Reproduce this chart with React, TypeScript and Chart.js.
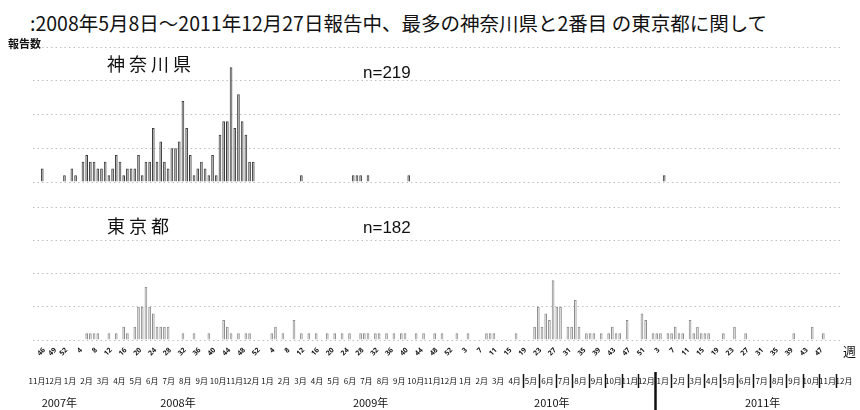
import React, { useEffect, useRef } from 'react';
import { Chart, registerables } from 'chart.js';

Chart.register(...registerables);

// ---- data: weekly report counts (2007 starts at week 44) ----
const YEARS = [2007, 2008, 2009, 2010, 2011];
const FIRST_WEEK = [44, 1, 1, 1, 1];

const KANAGAWA_2007 = [0, 0, 2, 0, 0, 0, 0, 0, 1];
const KANAGAWA_2008 = [
  0, 2, 1, 0, 3, 4, 3, 3, 2, 2, 3, 1, 2,
  4, 3, 1, 2, 2, 2, 4, 1, 3, 3, 8, 3, 6,
  3, 2, 5, 5, 6, 12, 8, 4, 1, 2, 3, 2, 1,
  4, 1, 7, 9, 9, 17, 8, 13, 9, 7, 3, 3, 0,
];
const KANAGAWA_2009 = [
  0, 0, 0, 0, 0, 0, 0, 0, 0, 0, 0, 1, 0,
  0, 0, 0, 0, 0, 0, 0, 0, 0, 0, 0, 0, 1,
  1, 1, 0, 1, 0, 0, 0, 0, 0, 0, 0, 0, 0,
  0, 1, 0, 0, 0, 0, 0, 0, 0, 0, 0, 0, 0, 0,
];
const KANAGAWA_2010 = [
  0, 0, 0, 0, 0, 0, 0, 0, 0, 0, 0, 0, 0,
  0, 0, 0, 0, 0, 0, 0, 0, 0, 0, 0, 0, 0,
  0, 0, 0, 0, 0, 0, 0, 0, 0, 0, 0, 0, 0,
  0, 0, 0, 0, 0, 0, 0, 0, 0, 0, 0, 0, 0,
];
const KANAGAWA_2011 = [
  0, 0, 0, 0, 1, 0, 0, 0, 0, 0, 0, 0, 0,
  0, 0, 0, 0, 0, 0, 0, 0, 0, 0, 0, 0, 0,
  0, 0, 0, 0, 0, 0, 0, 0, 0, 0, 0, 0, 0,
  0, 0, 0, 0, 0, 0, 0, 0, 0, 0, 0, 0, 0,
];

const TOKYO_2007 = [0, 0, 0, 0, 0, 0, 0, 0, 0];
const TOKYO_2008 = [
  0, 0, 0, 0, 0, 1, 1, 1, 1, 0, 0, 1, 0,
  1, 0, 2, 1, 0, 2, 5, 5, 8, 5, 4, 2, 2,
  2, 2, 0, 0, 0, 1, 0, 0, 1, 0, 0, 0, 1,
  0, 0, 0, 3, 2, 1, 0, 1, 0, 1, 1, 0, 0,
];
const TOKYO_2009 = [
  0, 0, 0, 1, 2, 0, 1, 0, 0, 3, 0, 1, 0,
  1, 0, 1, 0, 0, 1, 0, 1, 0, 1, 0, 1, 0,
  0, 1, 1, 1, 0, 1, 1, 0, 1, 0, 1, 0, 1,
  1, 0, 0, 1, 0, 1, 0, 0, 1, 0, 1, 0, 0, 0,
];
const TOKYO_2010 = [
  1, 0, 0, 1, 0, 0, 0, 0, 1, 1, 1, 0, 0,
  0, 0, 0, 1, 0, 0, 0, 0, 2, 5, 2, 4, 3,
  9, 5, 5, 0, 2, 2, 6, 2, 0, 1, 1, 1, 0,
  1, 0, 1, 2, 1, 1, 0, 3, 0, 0, 0, 4, 3,
];
const TOKYO_2011 = [
  0, 1, 1, 1, 0, 1, 1, 2, 1, 1, 0, 3, 1,
  2, 1, 1, 1, 0, 0, 0, 1, 0, 0, 2, 0, 0,
  1, 0, 0, 0, 0, 0, 0, 0, 0, 0, 0, 0, 0,
  1, 0, 0, 0, 0, 2, 0, 0, 1, 0, 0, 0, 0,
];

// week numbers shown as tick labels
const TICKS_2007 = [46, 49, 52];
const TICKS_2008 = [4, 8, 12, 16, 20, 24, 28, 32, 36, 40, 44, 48, 52];
const TICKS_2009 = [4, 8, 12, 16, 20, 24, 28, 32, 36, 40, 44, 48, 52];
const TICKS_2010 = [3, 7, 11, 15, 19, 23, 27, 31, 35, 39, 43, 47, 51];
const TICKS_2011 = [3, 7, 11, 15, 19, 23, 27, 31, 35, 39, 43, 47];

// month row: 2007-11 .. 2011-12
const MONTH_START = { year: 2007, month: 11 };
const MONTH_COUNT = 50;
const YEAR_LABELS = ['2007年', '2008年', '2009年', '2010年', '2011年'];
const YEAR_LABEL_AT = [1.6, 8.8, 20.5, 31.5, 44.3]; // month-row position
const SEPARATOR_FROM = '2010-4';
const SEPARATOR_TO = '2011-11';
const YEAR_BREAK = '2010-12';

const TITLE = ':2008年5月8日〜2011年12月27日報告中、最多の神奈川県と2番目 の東京都に関して';
const N_KANAGAWA = 'n=219';
const N_TOKYO = 'n=182';

// ---- build tables ----
const KANA = [KANAGAWA_2007, KANAGAWA_2008, KANAGAWA_2009, KANAGAWA_2010, KANAGAWA_2011];
const TOK = [TOKYO_2007, TOKYO_2008, TOKYO_2009, TOKYO_2010, TOKYO_2011];
const TICKS = [TICKS_2007, TICKS_2008, TICKS_2009, TICKS_2010, TICKS_2011];

const labels: string[] = [];
const tickText: string[] = [];
const kanagawa: number[] = [];
const tokyo: number[] = [];
YEARS.forEach((y, yi) => {
  KANA[yi].forEach((v, i) => {
    const w = FIRST_WEEK[yi] + i;
    labels.push(`${y}-W${w}`);
    tickText.push(TICKS[yi].includes(w) ? String(w) : '');
    kanagawa.push(v);
    tokyo.push(TOK[yi][i]);
  });
});

const months: { key: string; text: string }[] = [];
for (let k = 0; k < MONTH_COUNT; k++) {
  const m0 = MONTH_START.month - 1 + k;
  const y = MONTH_START.year + Math.floor(m0 / 12);
  const m = (m0 % 12) + 1;
  months.push({ key: `${y}-${m}`, text: `${m}月` });
}

const JP = '"Noto Sans CJK JP", "Noto Sans", sans-serif';

const axisDecor = {
  id: 'axisDecor',
  afterDraw(chart: any) {
    const { ctx, chartArea } = chart;
    const { left, right, bottom } = chartArea;
    const xs = chart.scales.x;
    ctx.save();
    ctx.fillStyle = '#111';
    // week numbers, rotated
    ctx.font = `bold 7px "Noto Sans", sans-serif`;
    ctx.textAlign = 'right';
    ctx.textBaseline = 'middle';
    tickText.forEach((t, i) => {
      if (!t) return;
      const x = xs.getPixelForValue(i);
      ctx.save();
      ctx.translate(x + 2, bottom + 9);
      ctx.rotate(-Math.PI / 4);
      ctx.fillText(t, 0, 0);
      ctx.restore();
    });
    // month row
    const step = (right - left) / (MONTH_COUNT - 1);
    const mx = (i: number) => left + 4 + i * step;
    ctx.textAlign = 'center';
    ctx.font = `8px ${JP}`;
    months.forEach((m, i) => ctx.fillText(m.text, mx(i), bottom + 41));
    const from = months.findIndex((m) => m.key === SEPARATOR_FROM);
    const to = months.findIndex((m) => m.key === SEPARATOR_TO);
    const brk = months.findIndex((m) => m.key === YEAR_BREAK);
    ctx.strokeStyle = '#111';
    for (let i = from; i <= to; i++) {
      const x = Math.round(mx(i + 0.5)) + 0.5;
      ctx.lineWidth = i === brk ? 2.5 : 1.5;
      ctx.beginPath();
      ctx.moveTo(x, bottom + (i === brk ? 32 : 34));
      ctx.lineTo(x, bottom + (i === brk ? 70 : 48));
      ctx.stroke();
    }
    ctx.font = `11px ${JP}`;
    YEAR_LABELS.forEach((t, i) => ctx.fillText(t, left + YEAR_LABEL_AT[i] * step, bottom + 63));
    ctx.restore();
  },
};

function makeOptions(padTop: number, padBottom: number): any {
  return {
    responsive: false,
    animation: false,
    events: [],
    plugins: { legend: { display: false }, tooltip: { enabled: false }, title: { display: false } },
    layout: { padding: { left: 33, right: 20, top: padTop, bottom: padBottom } },
    scales: {
      x: {
        display: false,
        offset: true,
        grid: { display: false },
      },
      y: {
        min: 0,
        max: 20,
        ticks: { stepSize: 5, display: false },
        grid: { color: 'rgba(150,150,150,0.6)', lineWidth: 1, drawTicks: false },
        border: { display: false, dash: [1.5, 3] },
      },
    },
  };
}

export default function App() {
  const topRef = useRef<HTMLCanvasElement>(null);
  const botRef = useRef<HTMLCanvasElement>(null);

  useEffect(() => {
    const top = new Chart(topRef.current!, {
      type: 'bar',
      data: {
        labels,
        datasets: [
          {
            data: kanagawa,
            backgroundColor: 'rgba(150,150,150,0.6)',
            borderColor: '#3c3c3c',
            borderWidth: 1,
            barPercentage: 0.72,
            categoryPercentage: 1,
          },
        ],
      },
      options: makeOptions(7, 8),
    });
    const bot = new Chart(botRef.current!, {
      type: 'bar',
      data: {
        labels,
        datasets: [
          {
            data: tokyo,
            backgroundColor: 'rgba(215,215,215,0.5)',
            borderColor: '#8c8c8c',
            borderWidth: 1,
            barPercentage: 0.72,
            categoryPercentage: 1,
          },
        ],
      },
      options: makeOptions(12, 70),
      plugins: [axisDecor],
    });
    return () => {
      top.destroy();
      bot.destroy();
    };
  }, []);

  const abs = (left: number, top: number, size: number, extra: any = {}) => ({
    position: 'absolute' as const,
    left,
    top,
    fontSize: size,
    lineHeight: 1,
    whiteSpace: 'nowrap' as const,
    color: '#111',
    fontFamily: JP,
    ...extra,
  });

  return (
    <div style={{ position: 'absolute', left: 0, top: 0, width: 860, height: 410, background: '#fff', overflow: 'hidden' }}>
      <canvas ref={topRef} width={860} height={150} style={{ position: 'absolute', left: 0, top: 40, width: 860, height: 150 }} />
      <canvas ref={botRef} width={860} height={215} style={{ position: 'absolute', left: 0, top: 195, width: 860, height: 215 }} />
      <div style={abs(30, 13, 19.5)}>{TITLE}</div>
      <div style={abs(8, 38, 11, { fontWeight: 700 })}>報告数</div>
      <div style={abs(107, 54, 18, { letterSpacing: 4 })}>神奈川県</div>
      <div style={abs(363, 64, 17, { fontFamily: '"Liberation Sans", Arial, sans-serif' })}>{N_KANAGAWA}</div>
      <div style={abs(107, 216, 18, { letterSpacing: 4 })}>東京都</div>
      <div style={abs(363, 219, 17, { fontFamily: '"Liberation Sans", Arial, sans-serif' })}>{N_TOKYO}</div>
      <div style={abs(843, 344, 13)}>週</div>
    </div>
  );
}
